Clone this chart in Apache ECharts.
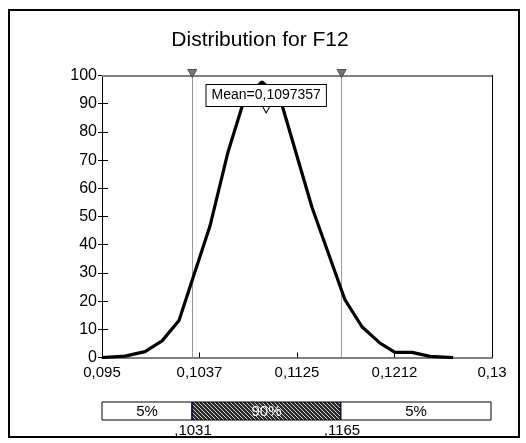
<!DOCTYPE html>
<html><head><meta charset="utf-8">
<script src="https://cdn.jsdelivr.net/npm/echarts@6/dist/echarts.min.js"></script>
<style>html,body{margin:0;padding:0;background:#fff}#c{width:526px;height:443px}</style>
</head><body><div id="c"></div>
<script>
// ---- data ----
const titleText = 'Distribution for F12';
const curveX = [0.0950, 0.09706, 0.09886, 0.10039, 0.10191, 0.10469, 0.10631, 0.10783, 0.10936, 0.11097, 0.11385, 0.11681, 0.11833, 0.11995, 0.12129, 0.12282, 0.12444, 0.12650];
const curveY = [0, 0.5, 2.1, 5.9, 13.1, 46.6, 72.9, 92.3, 97.7, 92.0, 53.2, 20.4, 10.9, 5.1, 1.8, 1.8, 0.4, 0];
const xTickLabels = ['0,095', '0,1037', '0,1125', '0,1212', '0,13'];
const xMin = 0.095, xMax = 0.13;
const yMin = 0, yMax = 100, yStep = 10;
const percentiles = [0.1031, 0.1165];
const percentileLabels = [',1031', ',1165'];
const bandLabels = ['5%', '90%', '5%'];
const meanValue = 0.1097357;
const meanLabel = 'Mean=0,1097357';

const FONT = 'Liberation Sans, Arial, sans-serif';
const curveData = curveX.map((x, i) => [x, curveY[i]]);
const bandEdges = [xMin, percentiles[0], percentiles[1], xMax];
const bandData = bandLabels.map((l, i) => [bandEdges[i], bandEdges[i + 1], i]);

// hatch pattern
const pc = document.createElement('canvas');
pc.width = 4; pc.height = 4;
const pctx = pc.getContext('2d');
pctx.fillStyle = '#2a2a2a'; pctx.fillRect(0, 0, 4, 4);
pctx.strokeStyle = '#ffffff'; pctx.lineWidth = 0.8;
pctx.beginPath(); pctx.moveTo(-1, -1); pctx.lineTo(5, 5); pctx.stroke();
const hatch = { image: pc, repeat: 'repeat' };

const pLine = v => [{ coord: [v, yMin] }, { coord: [v, yMax] }];

const chart = echarts.init(document.getElementById('c'), null, { renderer: 'canvas' });
chart.setOption({
  animation: false,
  backgroundColor: '#fff',
  graphic: [
    { type: 'rect', shape: { x: 9, y: 10, width: 510, height: 427 }, style: { fill: 'none', stroke: '#000', lineWidth: 2 }, z: 0 },
    { type: 'text', x: 260, y: 40, style: { text: titleText, font: '21px ' + FONT, fill: '#000', textAlign: 'center', textVerticalAlign: 'middle' } }
  ],
  grid: [
    { left: 102, top: 75.5, width: 390, height: 282, containLabel: false },
    { left: 102, top: 402, width: 389, height: 18, containLabel: false }
  ],
  xAxis: [
    { gridIndex: 0, type: 'value', min: xMin, max: xMax, axisLine: { show: true, lineStyle: { color: '#808080', width: 2 } }, axisTick: { show: false }, axisLabel: { show: false }, splitLine: { show: false } },
    { gridIndex: 0, type: 'value', min: 0, max: xTickLabels.length - 1, interval: 1, position: 'bottom', axisLine: { show: false }, axisTick: { show: true, inside: true, length: 5, lineStyle: { color: '#000' } },
      axisLabel: { show: true, margin: 8, fontSize: 15, fontFamily: FONT, color: '#000', formatter: v => xTickLabels[Math.round(v)] }, splitLine: { show: false } },
    { gridIndex: 1, type: 'value', min: xMin, max: xMax, show: false }
  ],
  yAxis: [
    { gridIndex: 0, type: 'value', min: yMin, max: yMax, interval: yStep, axisLine: { show: true, lineStyle: { color: '#000', width: 1 } }, axisTick: { show: true, length: 4, lineStyle: { color: '#000' } },
      axisLabel: { margin: 5, fontSize: 16, fontFamily: FONT, color: '#000' }, splitLine: { show: false } },
    { gridIndex: 0, type: 'value', min: yMin, max: yMax, interval: yStep, position: 'left', axisLine: { show: false }, axisTick: { show: true, inside: true, length: 6, lineStyle: { color: '#000' } }, axisLabel: { show: false }, splitLine: { show: false } },
    { gridIndex: 0, type: 'value', min: yMin, max: yMax, position: 'right', axisLine: { show: true, lineStyle: { color: '#000', width: 1 } }, axisTick: { show: false }, axisLabel: { show: false }, splitLine: { show: false } },
    { gridIndex: 1, type: 'value', min: 0, max: 1, show: false }
  ],
  series: [
    {
      type: 'line', xAxisIndex: 0, yAxisIndex: 0, data: curveData, showSymbol: false, symbol: 'none', smooth: false, z: 3,
      lineStyle: { color: '#000', width: 3.2 },
      markLine: {
        silent: true, symbol: 'none', label: { show: false }, z: 2,
        data: [
          [{ coord: [xMin, yMax] }, { coord: [xMax, yMax] }],
          pLine(percentiles[0]),
          pLine(percentiles[1])
        ],
        lineStyle: { color: '#999', width: 1, type: 'solid' }
      },
      markPoint: {
        silent: true,
        data: [
          { coord: [percentiles[0], yMax], symbol: 'triangle', symbolRotate: 180, symbolSize: [9, 8], symbolOffset: [0, -2], itemStyle: { color: '#777', borderColor: '#333', borderWidth: 0.8 }, label: { show: false } },
          { coord: [percentiles[1], yMax], symbol: 'triangle', symbolRotate: 180, symbolSize: [9, 8], symbolOffset: [0, -2], itemStyle: { color: '#777', borderColor: '#333', borderWidth: 0.8 }, label: { show: false } }
        ]
      }
    },
    {
      type: 'line', xAxisIndex: 0, yAxisIndex: 0, data: [], z: 2,
      markLine: {
        silent: true, symbol: 'none', label: { show: false },
        data: [[{ coord: [xMin, yMax] }, { coord: [xMax, yMax] }]],
        lineStyle: { color: '#808080', width: 2, type: 'solid' }
      }
    },
    {
      type: 'line', xAxisIndex: 0, yAxisIndex: 0, data: [], z: 6,
      markPoint: {
        silent: true,
        data: [
          { coord: [meanValue, yMax], symbol: 'rect', symbolSize: 0,
            label: { show: true, position: 'inside', offset: [0, 20], formatter: meanLabel, fontSize: 14, fontFamily: FONT, color: '#000', backgroundColor: '#fff', borderColor: '#000', borderWidth: 1, padding: [4, 5, 3, 5] } }
        ]
      }
    },
    {
      type: 'line', xAxisIndex: 0, yAxisIndex: 0, data: [], z: 8,
      markPoint: {
        silent: true,
        data: [
          { coord: [meanValue, yMax], symbol: 'triangle', symbolRotate: 180, symbolSize: [11, 10], symbolOffset: [0, 32.5], itemStyle: { color: '#fff', borderColor: '#000', borderWidth: 1 }, label: { show: false } }
        ]
      }
    },
    {
      type: 'custom', xAxisIndex: 2, yAxisIndex: 3, data: bandData, silent: true,
      renderItem: function (params, api) {
        const i = api.value(2);
        const p0 = api.coord([api.value(0), 1]);
        const p1 = api.coord([api.value(1), 0]);
        const w = p1[0] - p0[0], h = p1[1] - p0[1];
        const ch = [
          { type: 'rect', shape: { x: p0[0], y: p0[1], width: w, height: h }, style: { fill: i === 1 ? hatch : '#fff', stroke: '#000', lineWidth: 1 } },
          { type: 'text', style: { text: bandLabels[i], x: p0[0] + w / 2, y: p0[1] + h / 2 + 1, textAlign: 'center', textVerticalAlign: 'middle', font: '15px ' + FONT, fill: i === 1 ? '#fff' : '#000' } }
        ];
        if (i === 1) {
          ch.push({ type: 'line', shape: { x1: p0[0], y1: p0[1], x2: p0[0], y2: p1[1] }, style: { stroke: '#000080', lineWidth: 1 } });
          ch.push({ type: 'line', shape: { x1: p1[0], y1: p0[1], x2: p1[0], y2: p1[1] }, style: { stroke: '#000080', lineWidth: 1 } });
        }
        if (i < percentileLabels.length) {
          ch.push({ type: 'text', style: { text: percentileLabels[i], x: p1[0] + 1, y: p1[1] + 11, textAlign: 'center', textVerticalAlign: 'middle', font: '15px ' + FONT, fill: '#000' } });
        }
        return { type: 'group', children: ch };
      }
    }
  ]
});
</script></body></html>
